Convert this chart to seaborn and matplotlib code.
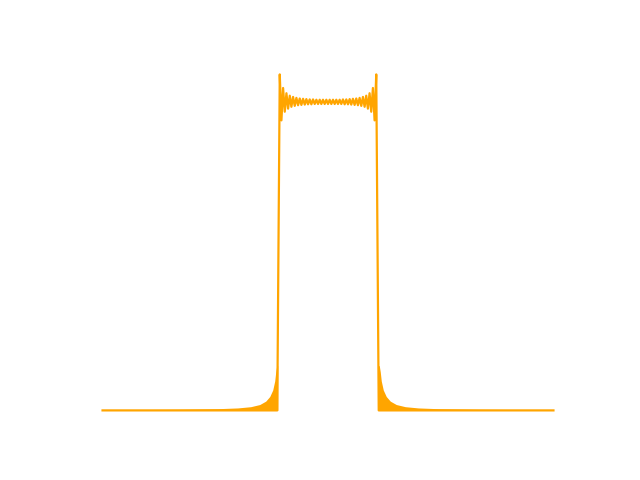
import matplotlib
matplotlib.use("Agg")
import matplotlib.pyplot as plt
import seaborn as sns
import numpy as np

# Main trace: flat floor, sharp edges, ringing plateau
x_line = [-0.5000, -0.1125, -0.1100,
          -0.1070, -0.1033, -0.0996, -0.0959, -0.0922, -0.0885, -0.0848, -0.0812,
          -0.0775, -0.0738, -0.0701, -0.0664, -0.0627, -0.0590, -0.0553, -0.0516,
          -0.0480, -0.0443, -0.0406, -0.0369, -0.0332, -0.0295, -0.0258, -0.0221,
          -0.0184, -0.0148, -0.0111, -0.0074, -0.0037, 0.0000,
          0.0037, 0.0074, 0.0111, 0.0148, 0.0184, 0.0221, 0.0258, 0.0295,
          0.0332, 0.0369, 0.0406, 0.0443, 0.0480, 0.0516, 0.0553, 0.0590,
          0.0627, 0.0664, 0.0701, 0.0738, 0.0775, 0.0812, 0.0848, 0.0885,
          0.0922, 0.0959, 0.0996, 0.1033, 0.1070,
          0.1100, 0.1125, 0.5000]
y_line = [0.000, 0.000, 0.500,
          1.089, 0.940, 1.045, 0.968, 1.028, 0.978, 1.020, 0.984,
          1.016, 0.987, 1.013, 0.989, 1.011, 0.990, 1.010, 0.991,
          1.009, 0.992, 1.008, 0.992, 1.008, 0.993, 1.007, 0.993,
          1.007, 0.993, 1.007, 0.993, 1.007, 0.993,
          1.007, 0.993, 1.007, 0.993, 1.007, 0.993, 1.007, 0.993,
          1.008, 0.992, 1.008, 0.992, 1.009, 0.991, 1.010, 0.990,
          1.011, 0.989, 1.013, 0.987, 1.016, 0.984, 1.020, 0.978,
          1.028, 0.968, 1.045, 0.940, 1.089,
          0.500, 0.000, 0.000]

# Envelope of the dense ringing outside the pass band
x_env_left = [-0.4995, -0.3332, -0.2445, -0.2002, -0.1714, -0.1514, -0.1381,
              -0.1292, -0.1226, -0.1182, -0.1159, -0.1137, -0.1115]
y_env_left = [0.002, 0.0035, 0.0055, 0.008, 0.012, 0.019, 0.030,
              0.045, 0.066, 0.095, 0.125, 0.145, 0.145]
x_env_right = [0.1115, 0.1137, 0.1159, 0.1182, 0.1226, 0.1292, 0.1381,
               0.1514, 0.1714, 0.2002, 0.2445, 0.3332, 0.4995]
y_env_right = [0.145, 0.145, 0.125, 0.095, 0.066, 0.045, 0.030,
               0.019, 0.012, 0.008, 0.0055, 0.0035, 0.002]

color = "#FFA500"
fig, ax = plt.subplots(figsize=(6.4, 4.8), dpi=100)
ax.fill_between(x_env_left, 0, y_env_left, color=color, lw=0)
ax.fill_between(x_env_right, 0, y_env_right, color=color, lw=0)
sns.lineplot(x=x_line, y=y_line, color=color, lw=1.6, ax=ax, estimator=None, sort=False)
ax.axis("off")
fig.savefig("out.png", dpi=100)
